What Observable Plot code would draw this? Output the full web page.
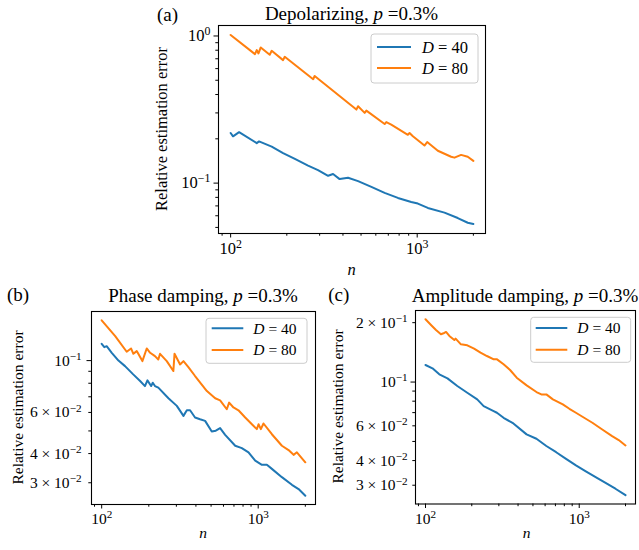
<!DOCTYPE html>
<html><head><meta charset="utf-8">
<script src="https://cdn.jsdelivr.net/npm/d3@7"></script>
<script src="https://cdn.jsdelivr.net/npm/@observablehq/plot@0.6"></script>
<style>
body{margin:0;background:#fff;}
#wrap{position:relative;width:639px;height:550px;overflow:hidden;background:#fff;}
#wrap svg{position:absolute;max-width:none;font-family:'Liberation Serif',serif;}
#wrap svg text, #wrap svg tspan{font-family:'Liberation Serif',serif;}
</style></head><body><div id="wrap"></div>
<script>
// ---------- data ----------
const titles = ["Depolarizing", "Phase damping", "Amplitude damping"];
const letters = ["(a)", "(b)", "(c)"];
const noiseLevel = "0.3%";
const seriesD = ["40", "80"];
const seriesColors = ["#1f77b4", "#ff7f0e"];

// (a) Depolarizing
const depolN40 = [100, 103, 111, 138, 142, 166, 191, 221, 260, 294, 333, 354, 384, 426, 482, 568, 669, 788, 929, 1008, 1140, 1400, 1650, 1866, 2000];
const depolE40 = [0.219, 0.208, 0.222, 0.187, 0.192, 0.177, 0.160, 0.146, 0.1315, 0.1227, 0.1122, 0.1153, 0.1065, 0.1088, 0.1032, 0.0944, 0.0859, 0.0793, 0.0745, 0.0726, 0.0678, 0.0630, 0.0579, 0.0538, 0.0527];
const depolN80 = [100, 135, 138, 141, 145, 162, 166, 191, 195, 277, 282, 472, 482, 523, 534, 669, 683, 726, 891, 910, 948, 1094, 1131, 1290, 1520, 1584, 1719, 1866, 2000];
const depolE80 = [1.016, 0.753, 0.802, 0.761, 0.836, 0.745, 0.793, 0.685, 0.722, 0.508, 0.535, 0.316, 0.333, 0.300, 0.311, 0.252, 0.260, 0.250, 0.213, 0.219, 0.208, 0.180, 0.190, 0.166, 0.151, 0.149, 0.1555, 0.151, 0.1415];

// (b) Phase damping
const phaseN40 = [100, 104, 107.6, 116, 128, 141, 159, 176, 189, 196, 207, 212, 219, 230, 267, 302, 333, 350, 367, 395, 425, 458, 505, 536, 571, 615, 713, 786, 867, 957, 1056, 1136, 1223, 1417, 1642, 1811, 2000];
const phaseE40 = [0.118, 0.1142, 0.1153, 0.108, 0.100, 0.0947, 0.0873, 0.0818, 0.0778, 0.0823, 0.0778, 0.0804, 0.0778, 0.0766, 0.069, 0.064, 0.058, 0.0613, 0.0613, 0.0571, 0.0561, 0.0552, 0.0497, 0.0501, 0.0514, 0.0481, 0.0432, 0.0422, 0.0405, 0.0373, 0.0358, 0.0358, 0.0344, 0.0317, 0.0294, 0.0282, 0.0264];
const phaseN80 = [100, 122, 144.5, 154, 159.4, 167.5, 182, 194, 204, 219, 230, 236, 260.5, 287, 292, 317, 333, 358, 395, 470, 531, 571, 630, 652, 695, 748, 826, 911, 980, 1005, 1040, 1081, 1223, 1417, 1563, 1683, 1767, 2000];
const phaseE80 = [0.1488, 0.1272, 0.1091, 0.1127, 0.1069, 0.1098, 0.0995, 0.1127, 0.108, 0.1045, 0.1011, 0.1069, 0.0995, 0.0902, 0.1069, 0.0963, 0.0995, 0.0938, 0.0859, 0.0741, 0.069, 0.0676, 0.0619, 0.0661, 0.063, 0.0613, 0.0571, 0.0534, 0.0509, 0.0534, 0.0509, 0.0538, 0.0484, 0.0432, 0.0414, 0.0395, 0.0405, 0.0367];

// (c) Amplitude damping
const ampN40 = [100, 111, 123, 139, 161, 187, 217, 239, 277.5, 291.5, 322, 373, 454.5, 527, 611, 708, 821, 952, 1104, 1279, 1484, 1720, 2000];
const ampE40 = [0.122, 0.1174, 0.1094, 0.1044, 0.0955, 0.0883, 0.0817, 0.0755, 0.0713, 0.0699, 0.0659, 0.0617, 0.0543, 0.0516, 0.0474, 0.0441, 0.0408, 0.0378, 0.0353, 0.033, 0.0308, 0.0288, 0.0267];
const ampN80 = [100, 109, 117, 126, 131, 136, 143, 154, 157, 170, 187, 207, 228, 251, 278, 292, 322, 355, 392, 455, 527, 567, 611, 674, 782, 863, 952, 1050, 1218, 1412, 1637, 1807, 2000];
const ampE80 = [0.208, 0.194, 0.1836, 0.1746, 0.1767, 0.1795, 0.1713, 0.1634, 0.166, 0.1553, 0.1535, 0.1477, 0.141, 0.1355, 0.1303, 0.1303, 0.123, 0.1151, 0.1052, 0.0962, 0.089, 0.0866, 0.0866, 0.0817, 0.077, 0.0732, 0.0699, 0.0667, 0.0622, 0.0575, 0.0532, 0.0508, 0.0477];

// ticks
const xMajorTicks = [100, 1000];
const xMinorTicks = [90, 200, 300, 400, 500, 600, 700, 800, 900, 2000];
const xTickLabels = {100: "10^2", 1000: "10^3"};
const yMajorA = [0.1, 1];
const yMinorA = [0.05, 0.06, 0.07, 0.08, 0.09, 0.2, 0.3, 0.4, 0.5, 0.6, 0.7, 0.8, 0.9];
const yLabelsA = {0.1: "10^\u22121", 1: "10^0"};
const yMajorB = [0.1];
const yMinorB = [0.03, 0.04, 0.05, 0.06, 0.07, 0.08, 0.09];
const yLabelsB = {0.03: "3 \u00d7 10^\u22122", 0.04: "4 \u00d7 10^\u22122", 0.06: "6 \u00d7 10^\u22122", 0.1: "10^\u22121"};
const yMajorC = [0.1];
const yMinorC = [0.03, 0.04, 0.05, 0.06, 0.07, 0.08, 0.09, 0.2];
const yLabelsC = {0.03: "3 \u00d7 10^\u22122", 0.04: "4 \u00d7 10^\u22122", 0.06: "6 \u00d7 10^\u22122", 0.1: "10^\u22121", 0.2: "2 \u00d7 10^\u22121"};

// ---------- drawing ----------
const FONT = "Liberation Serif, serif";
const TITLE_FS = 19;

function logPad(vals) {
  const [a, b] = d3.extent(vals, v => Math.log10(v));
  const p = (b - a) * 0.05;
  return [10 ** (a - p), 10 ** (b + p)];
}

function supify(svg) {
  d3.select(svg).selectAll("g[aria-label$='tick label'] text").each(function () {
    const s = this.textContent;
    if (!s || s.indexOf("^") < 0) return;
    const [base, sup] = s.split("^");
    const t = d3.select(this);
    t.text(null);
    t.append("tspan").text(base);
    t.append("tspan").attr("dy", "-0.5em").attr("font-size", "72%").text(sup);
  });
}

const allN = [...depolN40, ...depolN80, ...phaseN40, ...phaseN80, ...ampN40, ...ampN80];

const panels = [
  {n40: depolN40, e40: depolE40, n80: depolN80, e80: depolE80, yMajor: yMajorA, yMinor: yMinorA, yLabels: yLabelsA,
   left: 0, top: 0, w: 639, h: 280, ml: 218, mr: 154, mt: 25, mb: 47, fs: 16.5, xpad: 4.5, ypad: 3.5,
   letter: [157, 20.5], title: [351.5, 20], ylab: [162, 129], xlab: [351.5, 274.5],
   leg: {x: 371, y: 34, w: 107, h: 49, l1: 377, l2: 411, y1: 47, y2: 68, tx: 422}},
  {n40: phaseN40, e40: phaseE40, n80: phaseN80, e80: phaseE80, yMajor: yMajorB, yMinor: yMinorB, yLabels: yLabelsB,
   left: 0, top: 280, w: 320, h: 270, ml: 91, mr: 5, mt: 31, mb: 46, fs: 15.5, xpad: 4, ypad: 5.5,
   letter: [7, 21], title: [203, 21.5], ylab: [18.3, 127.5], xlab: [203, 258],
   leg: {x: 206, y: 38.3, w: 101, h: 45, l1: 211.7, l2: 243.3, y1: 48.3, y2: 70, tx: 253.3}},
  {n40: ampN40, e40: ampE40, n80: ampN80, e80: ampE80, yMajor: yMajorC, yMinor: yMinorC, yLabels: yLabelsC,
   left: 320, top: 280, w: 319, h: 270, ml: 95, mr: 4, mt: 30, mb: 46.5, fs: 15.5, xpad: 4.5, ypad: 3.5,
   letter: [8.3, 21], title: [205, 21.5], ylab: [18.3, 126.5], xlab: [206.7, 258.3],
   leg: {x: 210.7, y: 37.3, w: 100, h: 45, l1: 215.7, l2: 247.3, y1: 48, y2: 69.7, tx: 257.3}}
];

const wrap = document.getElementById("wrap");

panels.forEach((p, i) => {
  const rows = [
    ...p.n40.map((n, j) => ({n, err: p.e40[j], D: seriesD[0]})),
    ...p.n80.map((n, j) => ({n, err: p.e80[j], D: seriesD[1]}))
  ];
  const svg = Plot.plot({
    width: p.w, height: p.h,
    marginLeft: p.ml, marginRight: p.mr, marginTop: p.mt, marginBottom: p.mb,
    style: {fontFamily: FONT, fontSize: p.fs + "px", background: "white", color: "black", overflow: "visible"},
    x: {type: "log", domain: logPad(allN)},
    y: {type: "log", domain: logPad(rows.map(r => r.err))},
    color: {domain: seriesD, range: seriesColors},
    marks: [
      Plot.line(rows, {x: "n", y: "err", z: "D", stroke: "D", strokeWidth: 2}),
      Plot.frame({stroke: "black", strokeWidth: 1.1}),
      Plot.axisX(xMajorTicks, {tickSize: 4.5, tickPadding: p.xpad, tickFormat: d => xTickLabels[d] ?? "", label: null, fontSize: p.fs}),
      Plot.axisX(xMinorTicks, {tickSize: 2.7, tickPadding: p.xpad + 1.8, tickFormat: () => "", label: null}),
      Plot.axisY(p.yMajor, {tickSize: 4.5, tickPadding: p.ypad, tickFormat: d => p.yLabels[d] ?? "", label: null, fontSize: p.fs}),
      Plot.axisY(p.yMinor, {tickSize: 2.7, tickPadding: p.ypad + 1.8, tickFormat: d => p.yLabels[d] ?? "", label: null, fontSize: p.fs})
    ]
  });
  svg.style.left = p.left + "px";
  svg.style.top = p.top + "px";
  supify(svg);

  const g = d3.select(svg).append("g").attr("font-family", FONT).attr("fill", "black");
  g.append("text").attr("x", p.letter[0]).attr("y", p.letter[1]).attr("text-anchor", "start")
    .attr("font-size", TITLE_FS).text(letters[i]);
  const t = g.append("text").attr("x", p.title[0]).attr("y", p.title[1]).attr("text-anchor", "middle").attr("font-size", TITLE_FS);
  t.append("tspan").text(titles[i] + ", ");
  t.append("tspan").attr("font-style", "italic").text("p");
  t.append("tspan").text(" =" + noiseLevel);

  g.append("text").attr("transform", `translate(${p.ylab[0]},${p.ylab[1]}) rotate(-90)`)
    .attr("text-anchor", "middle").attr("dy", "0.32em").attr("font-size", p.fs).text("Relative estimation error");
  g.append("text").attr("x", p.xlab[0]).attr("y", p.xlab[1]).attr("text-anchor", "middle")
    .attr("font-size", p.fs).attr("font-style", "italic").text("n");

  const L = p.leg;
  g.append("rect").attr("x", L.x).attr("y", L.y).attr("width", L.w).attr("height", L.h).attr("rx", 3)
    .attr("fill", "white").attr("fill-opacity", 0.8).attr("stroke", "#cccccc").attr("stroke-width", 1);
  [L.y1, L.y2].forEach((yy, k) => {
    g.append("line").attr("x1", L.l1).attr("x2", L.l2).attr("y1", yy).attr("y2", yy)
      .attr("stroke", seriesColors[k]).attr("stroke-width", 2);
    const lt = g.append("text").attr("x", L.tx).attr("y", yy).attr("dy", "0.35em")
      .attr("text-anchor", "start").attr("font-size", p.fs);
    lt.append("tspan").attr("font-style", "italic").text("D");
    lt.append("tspan").text(" = " + seriesD[k]);
  });
  wrap.appendChild(svg);
});
</script></body></html>
